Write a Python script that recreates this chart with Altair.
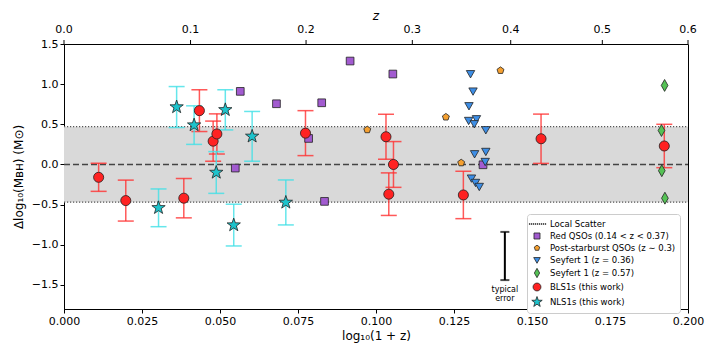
import math
import altair as alt
import pandas as pd

# ---------------- data ----------------
bls_x = [0.0111, 0.0198, 0.0384, 0.0434, 0.0478, 0.0490, 0.0774, 0.1032, 0.1041, 0.1056, 0.1280, 0.1529, 0.1924]
bls_y = [-0.16, -0.45, -0.42, 0.67, 0.29, 0.38, 0.39, 0.345, -0.37, 0.00, -0.38, 0.32, 0.23]
bls_err = [0.175, 0.255, 0.245, 0.26, 0.25, 0.25, 0.28, 0.28, 0.265, 0.285, 0.295, 0.307, 0.27]

nls_x = [0.0303, 0.0361, 0.0417, 0.0488, 0.0517, 0.0544, 0.0603, 0.0711]
nls_y = [-0.54, 0.715, 0.49, -0.10, 0.68, -0.755, 0.35, -0.473]
nls_err = [0.235, 0.255, 0.24, 0.26, 0.25, 0.26, 0.31, 0.28]

redqso_x = [0.0549, 0.0565, 0.0681, 0.0784, 0.0826, 0.0835, 0.0917, 0.1054, 0.1343]
redqso_y = [-0.045, 0.91, 0.756, 0.324, 0.768, -0.46, 1.288, 1.126, -0.004]

psq_x = [0.0972, 0.1224, 0.1273, 0.1399]
psq_y = [0.432, 0.59, 0.02, 1.17]

sy36_x = [0.1303, 0.1311, 0.1298, 0.1297, 0.1322, 0.1315, 0.1352, 0.1316, 0.1352, 0.1350, 0.1306, 0.1319, 0.1331]
sy36_y = [1.13, 0.914, 0.731, 0.548, 0.569, 0.507, 0.432, 0.133, 0.162, 0.037, -0.17, -0.224, -0.274]

sy57_x = [0.1925, 0.1915, 0.1916, 0.1926]
sy57_y = [0.984, 0.423, -0.078, -0.42]

local_scatter = 0.47
typical_x = [0.1413]
typical_y = [-1.14]
typical_err = [0.30]

x_ticks = [0.0, 0.025, 0.05, 0.075, 0.1, 0.125, 0.15, 0.175, 0.2]
y_ticks = [-1.5, -1.0, -0.5, 0.0, 0.5, 1.0, 1.5]
z_ticks = [0.0, 0.1, 0.2, 0.3, 0.4, 0.5, 0.6]

groups = [
    "Local Scatter",
    "Red QSOs (0.14 < z < 0.37)",
    "Post-starburst QSOs (z ∼ 0.3)",
    "Seyfert 1 (z = 0.36)",
    "Seyfert 1 (z = 0.57)",
    "BLS1s (this work)",
    "NLS1s (this work)",
]
fills = ["#333333", "#a25bd0", "#f5a030", "#3d8ee6", "#55c255", "#ff2222", "#1ec3cc"]

W, H = 624, 265

# ---------------- marker shapes (paths in unit box) ----------------
def polygon(radii, n, start=-90.0):
    pts = []
    for i in range(n):
        a = math.radians(start + 360.0 * i / n)
        r = radii[i % len(radii)]
        pts.append(f"{r*math.cos(a):.3f},{r*math.sin(a):.3f}")
    return "M" + "L".join(pts) + "Z"

def circle(r):
    return f"M{r},0A{r},{r} 0 1,1 {-r},0A{r},{r} 0 1,1 {r},0Z"

dots = "".join(f"M{-1.4 + i*0.36:.2f},-0.07h0.13v0.14h-0.13Z" for i in range(9))
shapes = [
    dots,
    "M-0.55,-0.55H0.55V0.55H-0.55Z",
    polygon([0.52], 5),
    "M-0.6,-0.45L0.6,-0.45L0,0.6Z",
    "M0,-0.85L0.48,0L0,0.85L-0.48,0Z",
    circle(0.72),
    polygon([1.0, 0.4], 10),
]

# ---------------- tables ----------------
pts = pd.concat([
    pd.DataFrame({"x": redqso_x, "y": redqso_y, "g": groups[1]}),
    pd.DataFrame({"x": psq_x, "y": psq_y, "g": groups[2]}),
    pd.DataFrame({"x": sy36_x, "y": sy36_y, "g": groups[3]}),
    pd.DataFrame({"x": sy57_x, "y": sy57_y, "g": groups[4]}),
    pd.DataFrame({"x": bls_x, "y": bls_y, "g": groups[5]}),
    pd.DataFrame({"x": nls_x, "y": nls_y, "g": groups[6]}),
], ignore_index=True)

bls = pd.DataFrame({"x": bls_x, "y": bls_y, "e": bls_err})
nls = pd.DataFrame({"x": nls_x, "y": nls_y, "e": nls_err})
for d in (bls, nls):
    d["lo"] = d["y"] - d["e"]
    d["hi"] = d["y"] + d["e"]

def caps(d):
    return pd.DataFrame({"x": list(d["x"]) * 2, "y": list(d["lo"]) + list(d["hi"])})

typ = pd.DataFrame({"x": typical_x, "y": typical_y, "e": typical_err})
typ["lo"] = typ["y"] - typ["e"]
typ["hi"] = typ["y"] + typ["e"]

band = pd.DataFrame({"x0": [x_ticks[0]], "x1": [x_ticks[-1]], "lo": [-local_scatter], "hi": [local_scatter]})
scat = pd.DataFrame({"x0": [x_ticks[0]] * 2, "x1": [x_ticks[-1]] * 2, "y": [-local_scatter, local_scatter]})
zero = pd.DataFrame({"x0": [x_ticks[0]], "x1": [x_ticks[-1]], "y": [0.0]})

s = math.log10(1.6) / 0.2
top = pd.DataFrame({"x": [math.log10(1 + z) / s for z in z_ticks],
                    "label": [f"{z:.1f}" for z in z_ticks]})

# ---------------- scales / axes ----------------
xs = alt.Scale(domain=[0, 0.2], nice=False, zero=False)
ys = alt.Scale(domain=[-1.8, 1.5], nice=False, zero=False)
FONT = "DejaVu Sans"

bottom_axis = alt.Axis(values=x_ticks, format=".3f", title="log₁₀(1 + z)", labelFlush=False)
y_axis = alt.Axis(values=y_ticks, format=".1f", title="Δlog₁₀(Mʙʜ) (M⊙)", titlePadding=6,
                  labelFlush=False)

def X(f):
    return alt.X(f, scale=xs, axis=bottom_axis)

def Y(f):
    return alt.Y(f, scale=ys, axis=y_axis)

# ---------------- layers ----------------
band_l = alt.Chart(band).mark_rect(color="#d9d9d9").encode(
    x=X("x0:Q"), x2="x1", y=Y("lo:Q"), y2="hi")

scat_l = alt.Chart(scat).mark_rule(color="#555555", strokeDash=[1.2, 1.8], strokeWidth=1.3).encode(
    x=X("x0:Q"), x2="x1", y=Y("y:Q"))

zero_l = alt.Chart(zero).mark_rule(color="#444444", strokeDash=[6, 3], strokeWidth=1.6).encode(
    x=X("x0:Q"), x2="x1", y=Y("y:Q"))

# secondary (top) z axis, placed through the shared x scale
top_ticks = alt.Chart(top).mark_rule(color="black", strokeWidth=1).encode(
    x=X("x:Q"), y=alt.value(0), y2=alt.value(-4))
top_labels = alt.Chart(top).mark_text(baseline="bottom", fontSize=11, font=FONT, color="black").encode(
    x=X("x:Q"), y=alt.value(-9), text="label:N")
top_title = alt.Chart(top.head(1)).mark_text(text="z", fontStyle="italic", fontSize=12, font=FONT,
                                              color="black", baseline="middle").encode(
    x=alt.value(W / 2), y=alt.value(-28))

def errbars(d, color):
    r = alt.Chart(d).mark_rule(color=color, strokeWidth=1.5, opacity=0.8).encode(
        x=X("x:Q"), y=Y("lo:Q"), y2="hi")
    c = alt.Chart(caps(d)).mark_tick(color=color, orient="horizontal", size=16,
                                     thickness=1.5, opacity=0.8).encode(
        x=X("x:Q"), y=Y("y:Q"))
    return [r, c]

legend = alt.Legend(title=None, orient="none", legendX=463, legendY=170)
pts_l = alt.Chart(pts).mark_point(filled=True, size=196, strokeWidth=0.8, opacity=1).encode(
    x=X("x:Q"), y=Y("y:Q"),
    shape=alt.Shape("g:N", scale=alt.Scale(domain=groups, range=shapes), legend=legend),
    fill=alt.Fill("g:N", scale=alt.Scale(domain=groups, range=fills), legend=legend),
    stroke=alt.Stroke("g:N", scale=alt.Scale(domain=groups, range=["#333333"] + ["#222222"] * 6),
                      legend=legend),
)

typ_rule = alt.Chart(typ).mark_rule(color="black", strokeWidth=2).encode(
    x=X("x:Q"), y=Y("lo:Q"), y2="hi")
typ_caps = alt.Chart(pd.DataFrame({"x": typical_x * 2, "y": list(typ["lo"]) + list(typ["hi"])})).mark_tick(
    color="black", orient="horizontal", size=9, thickness=2).encode(
    x=X("x:Q"), y=Y("y:Q"))
typ_text = alt.Chart(typ).mark_text(text="typical\nerror", lineBreak="\n", baseline="top",
                                    fontSize=8, font=FONT, color="black", dy=6, lineHeight=9).encode(
    x=X("x:Q"), y=Y("lo:Q"))

chart = alt.layer(
    band_l, scat_l, zero_l, top_ticks, top_labels, top_title,
    *errbars(bls, "#ff3030"), *errbars(nls, "#3fe0e6"),
    pts_l, typ_rule, typ_caps, typ_text,
).properties(
    width=W, height=H,
    autosize=alt.AutoSizeParams(type="none"),
    padding={"left": 56, "top": 36, "right": 18, "bottom": 34},
).configure_view(stroke="black", strokeWidth=1).configure_axis(
    grid=False, labelFont=FONT, titleFont=FONT, labelFontSize=11, titleFontSize=12,
    titleFontWeight="normal", tickSize=4, tickColor="black", domainColor="black",
    labelColor="black", titleColor="black", titlePadding=4, labelFlush=False,
).configure_legend(
    padding=4, fillColor="white", strokeColor="#cccccc", cornerRadius=3,
    labelFont=FONT, labelFontSize=8.5, labelColor="black", symbolSize=120,
    rowPadding=1.0, symbolStrokeWidth=0.8, labelOffset=7,
)

chart.save("out.html", embed_options={"renderer": "svg", "actions": False})
